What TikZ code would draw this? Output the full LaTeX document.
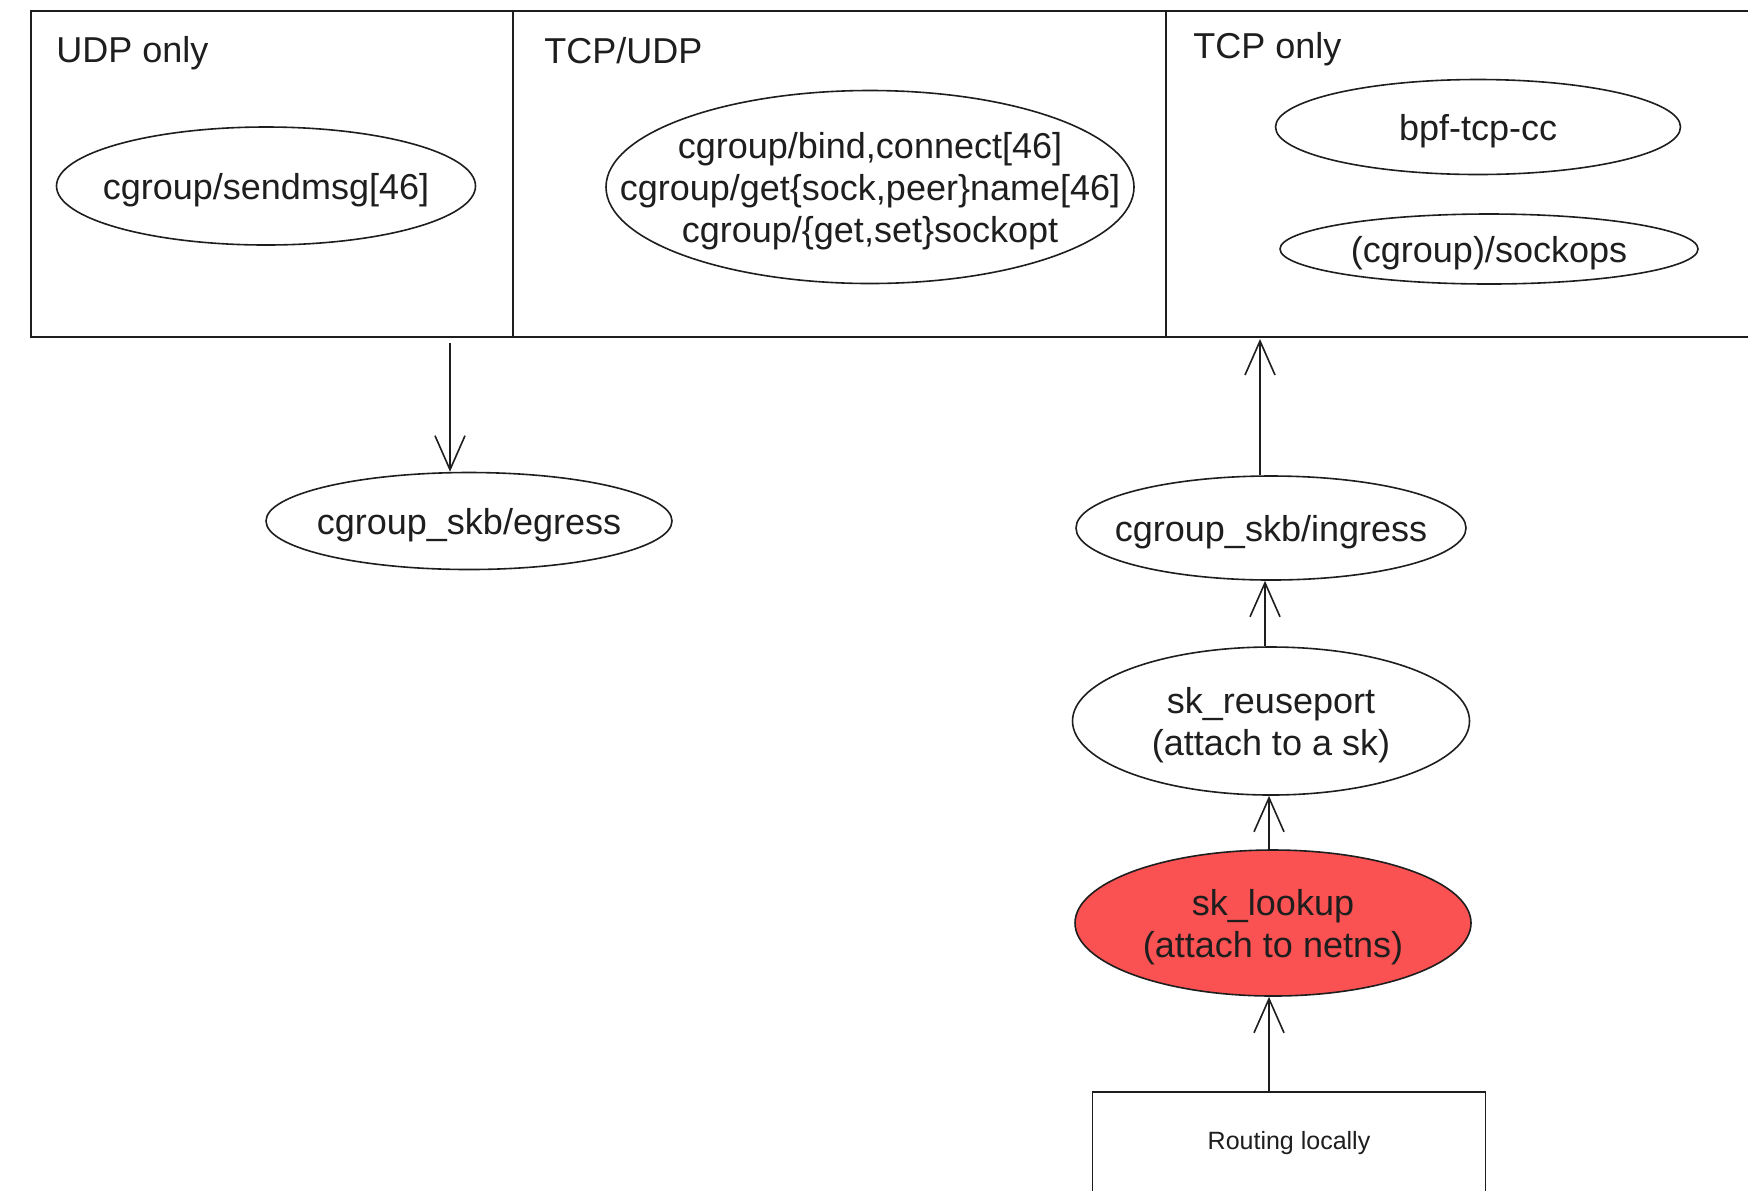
\documentclass[tikz,border=0pt]{standalone}
\usepackage{fontspec}
\setmainfont{Liberation Sans}
\usetikzlibrary{shapes.geometric,arrows.meta}
\definecolor{ink}{HTML}{1E1E1E}
\definecolor{lookupred}{HTML}{FA5252}
\begin{document}
\begin{tikzpicture}[x=0.5pt,y=-0.5pt,
  ell/.style={ellipse,draw=ink,line width=0.8pt,inner sep=0pt},
  lbl/.style={font=\fontsize{18}{21}\selectfont,align=center,inner sep=0pt,text=ink},
  intext/.style={lbl,yshift=-2pt},
  small/.style={font=\fontsize{12.5}{15}\selectfont,align=center,inner sep=0pt,text=ink},
  conn/.style={draw=ink,line width=0.8pt,-{Straight Barb[length=17pt,width=15pt]}},
  panel/.style={draw=ink,line width=0.8pt}]
\useasboundingbox[fill=white] (0,0) rectangle (1748,1190);

% panels
\draw[panel] (1760,11) -- (31,11) -- (31,337) -- (1760,337);
\draw[panel] (513,11) -- (513,337);
\draw[panel] (1166,11) -- (1166,337);

% headings
\node[lbl,anchor=west] (hudp) at (56,53) {UDP only};
\node[lbl,anchor=west] (hboth) at (544,51) {TCP/UDP};
\node[lbl,anchor=west] (htcp) at (1193,49) {TCP only};

% ellipses inside panels
\node[ell,minimum width=209.5pt,minimum height=59pt] (sendmsg) at (266,186) {};
\node[intext] (sendmsgT) at (sendmsg) {cgroup/sendmsg[46]};

\node[ell,minimum width=264pt,minimum height=96.5pt] (both) at (870,187) {};
\node[intext] (bothT) at (both) {cgroup/bind,connect[46]\\cgroup/get\{sock,peer\}name[46]\\cgroup/\{get,set\}sockopt};

\node[ell,minimum width=202.5pt,minimum height=47.5pt] (cc) at (1478,127) {};
\node[intext] (ccT) at (cc) {bpf-tcp-cc};

\node[ell,minimum width=209pt,minimum height=35pt] (sockops) at (1489,249) {};
\node[intext] (sockopsT) at (sockops) {(cgroup)/sockops};

% lower nodes
\node[ell,minimum width=203pt,minimum height=48.5pt] (egress) at (469,521) {};
\node[intext] (egressT) at (egress) {cgroup\_skb/egress};

\node[ell,minimum width=195pt,minimum height=52pt] (ingress) at (1271,528) {};
\node[intext] (ingressT) at (ingress) {cgroup\_skb/ingress};

\node[ell,minimum width=198.5pt,minimum height=74pt] (reuse) at (1271,721) {};
\node[intext] (reuseT) at (reuse) {sk\_reuseport\\(attach to a sk)};

\node[ell,fill=lookupred,minimum width=198pt,minimum height=73pt] (lookup) at (1273,923) {};
\node[intext] (lookupT) at (lookup) {sk\_lookup\\(attach to netns)};

\node[draw=ink,line width=0.8pt,minimum width=196.5pt,minimum height=51pt,inner sep=0pt] (route) at (1289,1143) {};
\node[small] (routeT) at (route) {Routing locally};

% connector end points on the panel border
\coordinate (eStart) at (450,343);
\coordinate (iEnd) at (1260,339);

% connectors
\draw[conn] (eStart) -- (eStart |- egress.north);
\draw[conn] (ingress.north -| iEnd) -- (iEnd);
\draw[conn] (reuse.north) ++(-6,0) coordinate (rTop) -- (rTop |- ingress.south);
\draw[conn] (lookup.north) ++(-4,0) coordinate (lTop) -- (lTop |- reuse.south);
\draw[conn] (route.north) ++(-20,0) coordinate (oTop) -- (oTop |- lookup.south);
\end{tikzpicture}
\end{document}
